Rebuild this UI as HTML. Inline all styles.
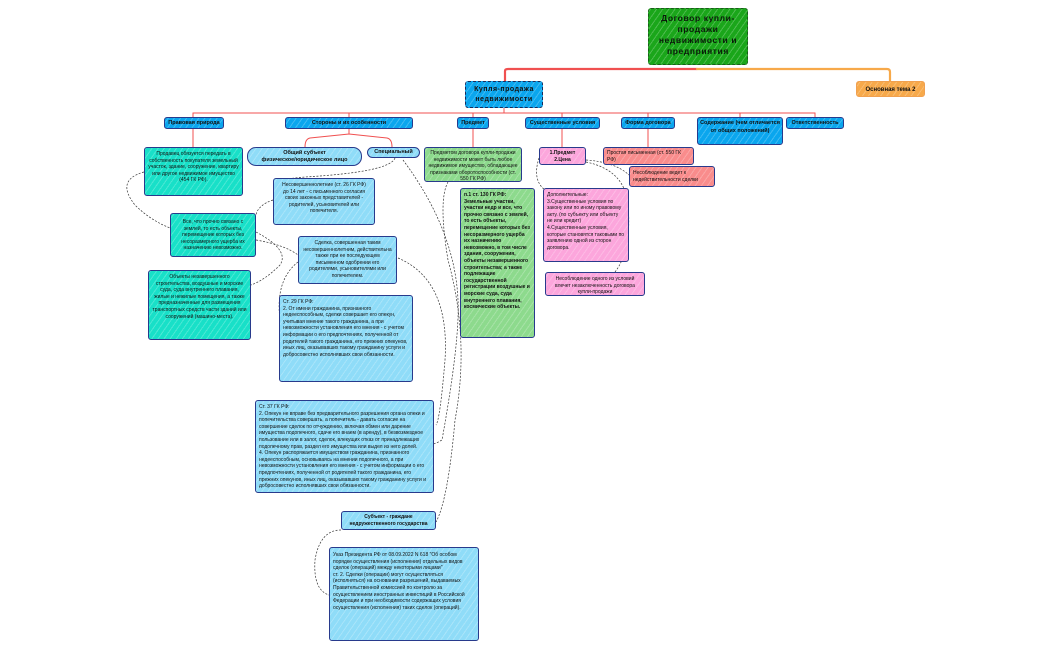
<!DOCTYPE html>
<html><head><meta charset="utf-8">
<style>
*{box-sizing:border-box;margin:0;padding:0}
body{width:1050px;height:650px;background:#fff;position:relative;overflow:hidden;font-family:"Liberation Sans","DejaVu Sans",sans-serif;}
.n{position:absolute;border:1.2px solid #283a8c;border-radius:3px;color:#111;font-size:5px;line-height:6.6px;padding:2px 3px;text-align:center;overflow:hidden;
background-image:repeating-linear-gradient(-55deg,rgba(255,255,255,.22) 0 1px,transparent 1px 5px);}
.l{text-align:left}
.b{background-color:#0aa6ee;font-size:5.5px;line-height:10px;padding:0 1px;white-space:nowrap;font-weight:bold}
.lb{background-color:#8fdcf8}
.t{background-color:#18e0c8}
.g{background-color:#8dda8d}
.p{background-color:#fca6dc}
.s{background-color:#f98c8c}
svg{position:absolute;left:0;top:0}
</style></head><body>
<svg width="1050" height="650">
<g fill="none" stroke-linecap="round">
<path d="M505 81 V71 Q505 69 508 69 H697" stroke="#f05050" stroke-width="2.2"/>
<path d="M697 69 H887 Q890 69 890 72 V81" stroke="#f7a94a" stroke-width="2.2"/>
<path d="M504 108 V113" stroke="#f05050" stroke-width="1"/>
<path d="M193 113 H815" stroke="#f05050" stroke-width="1"/>
<path d="M193 113 V117 M349 113 V117 M473 113 V117 M562 113 V117 M648 113 V117 M740 113 V117 M815 113 V117" stroke="#f05050" stroke-width="1"/>
<path d="M193 129 V147 M473 129 V147 M562 129 V147 M648 129 V147" stroke="#f05050" stroke-width="1"/>
<path d="M349 129 V134 M349 134 L310 138 Q305 139 305 147 M349 134 L387 138 Q392 139 392 147" stroke="#f05050" stroke-width="1"/>
</g>
<g fill="none" stroke="#333" stroke-width="0.7" stroke-dasharray="2,1.5">
<path d="M144 172 Q115 180 135 205 Q150 220 170 228"/>
<path d="M395 158 Q390 172 305 177 L275 180"/>
<path d="M273 200 Q258 205 256 215"/>
<path d="M256 240 Q285 245 298 255"/>
<path d="M256 232 Q290 250 280 265 Q265 280 251 285"/>
<path d="M298 262 Q275 280 280 320"/>
<path d="M398 258 Q450 280 445 360 Q440 420 436 425"/>
<path d="M403 160 Q455 230 458 300 Q460 340 442 440 Q425 450 418 440"/>
<path d="M448 182 Q438 200 448 260 Q470 340 455 420 Q448 500 436 522"/>
<path d="M341 530 Q320 530 315 560 Q313 590 329 595"/>
<path d="M539 158 Q532 180 545 190"/>
<path d="M586 162 Q625 170 628 205 Q632 250 615 272"/>
<path d="M586 160 Q615 162 629 175"/>
</g>
</svg>

<div class="n" style="left:648px;top:8px;width:100px;height:57px;background-color:#1aa61a;border:1.2px dashed #1b5a1b;font-size:8.5px;line-height:11px;padding-top:4px;letter-spacing:.6px;color:#0a1a0a;font-weight:bold">Договор купли-продажи недвижимости и предприятия</div>
<div class="n" style="left:465px;top:81px;width:78px;height:27px;background-color:#0aa6ee;border:1.2px dashed #1b2a5a;font-size:7px;line-height:9.5px;padding-top:3px;letter-spacing:.5px;font-weight:bold">Купля-продажа недвижимости</div>
<div class="n" style="left:856px;top:81px;width:69px;height:16px;background-color:#f7a94a;border:1px solid #f0a050;font-size:6px;line-height:12px;font-weight:bold">Основная тема 2</div>

<div class="n b" style="left:164px;top:117px;width:60px;height:12px">Правовая природа</div>
<div class="n b" style="left:285px;top:117px;width:128px;height:12px">Стороны и их особенности</div>
<div class="n b" style="left:457px;top:117px;width:32px;height:12px">Предмет</div>
<div class="n b" style="left:525px;top:117px;width:75px;height:12px">Существенные условия</div>
<div class="n b" style="left:621px;top:117px;width:54px;height:12px">Форма договора</div>
<div class="n b" style="left:697px;top:117px;width:86px;height:28px;white-space:normal;line-height:7.5px;padding-top:2px">Содержание (чем отличается от общих положений)</div>
<div class="n b" style="left:786px;top:117px;width:58px;height:12px">Ответственность</div>

<div class="n t" style="left:144px;top:147px;width:99px;height:49px;padding-top:3px">Продавец обязуется передать в собственность покупателя земельный участок, здание, сооружение, квартиру или другое недвижимое имущество (454 ГК РФ).</div>
<div class="n lb" style="left:247px;top:147px;width:115px;height:19px;border-radius:9px;font-size:5.5px;line-height:7px;padding-top:2px;font-weight:bold">Общий субъект<br>физическое/юридическое лицо</div>
<div class="n lb" style="left:367px;top:147px;width:53px;height:11px;border-radius:6px;font-size:5.5px;line-height:8px;padding:0;font-weight:bold">Специальный</div>
<div class="n lb" style="left:273px;top:178px;width:102px;height:47px;padding-top:3px">Несовершеннолетние (ст. 26 ГК РФ)<br>до 14 лет - с письменного согласия своих законных представителей - родителей, усыновителей или попечителя.</div>
<div class="n t" style="left:170px;top:213px;width:86px;height:44px;padding-top:5px">Все, что прочно связано с землей, то есть объекты, перемещение которых без несоразмерного ущерба их назначению невозможно.</div>
<div class="n lb" style="left:298px;top:236px;width:99px;height:48px;padding-top:3px">Сделка, совершенная таким несовершеннолетним, действительна также при ее последующем письменном одобрении его родителями, усыновителями или попечителем.</div>
<div class="n t" style="left:148px;top:270px;width:103px;height:70px;padding-top:3px">Объекты незавершенного строительства, воздушные и морские суда, суда внутреннего плавания, жилые и нежилые помещения, а также предназначенные для размещения транспортных средств части зданий или сооружений (машино-места).</div>
<div class="n lb l" style="left:279px;top:295px;width:134px;height:87px;padding-top:3px">Ст. 29 ГК РФ:<br>2. От имени гражданина, признанного недееспособным, сделки совершает его опекун, учитывая мнение такого гражданина, а при невозможности установления его мнения - с учетом информации о его предпочтениях, полученной от родителей такого гражданина, его прежних опекунов, иных лиц, оказывавших такому гражданину услуги и добросовестно исполнявших свои обязанности.</div>
<div class="n lb l" style="left:255px;top:400px;width:179px;height:93px;padding-top:3px">Ст. 37 ГК РФ:<br>2. Опекун не вправе без предварительного разрешения органа опеки и попечительства совершать, а попечитель - давать согласие на совершение сделок по отчуждению, включая обмен или дарение имущества подопечного, сдаче его внаем (в аренду), в безвозмездное пользование или в залог, сделок, влекущих отказ от принадлежащих подопечному прав, раздел его имущества или выдел из него долей.<br>4. Опекун распоряжается имуществом гражданина, признанного недееспособным, основываясь на мнении подопечного, а при невозможности установления его мнения - с учетом информации о его предпочтениях, полученной от родителей такого гражданина, его прежних опекунов, иных лиц, оказывавших такому гражданину услуги и добросовестно исполнявших свои обязанности.</div>
<div class="n lb" style="left:341px;top:511px;width:95px;height:19px;font-size:5px;line-height:6.5px;padding-top:2px;font-weight:bold">Субъект - граждане недружественного государства</div>
<div class="n lb l" style="left:329px;top:547px;width:150px;height:94px;padding-top:4px">Указ Президента РФ от 08.09.2022 N 618 "Об особом порядке осуществления (исполнения) отдельных видов сделок (операций) между некоторыми лицами"<br>ст. 2. Сделки (операции) могут осуществляться (исполняться) на основании разрешений, выдаваемых Правительственной комиссией по контролю за осуществлением иностранных инвестиций в Российской Федерации и при необходимости содержащих условия осуществления (исполнения) таких сделок (операций).</div>

<div class="n g" style="left:424px;top:147px;width:98px;height:35px;padding-top:2px">Предметом договора купли-продажи недвижимости может быть любое недвижимое имущество, обладающее признаками оборотоспособности (ст. 550 ГК РФ)</div>
<div class="n g l" style="left:460px;top:188px;width:75px;height:150px;padding-top:3px;font-weight:bold">п.1 ст. 130 ГК РФ: Земельные участки, участки недр и все, что прочно связано с землей, то есть объекты, перемещение которых без несоразмерного ущерба их назначению невозможно, в том числе здания, сооружения, объекты незавершенного строительства; а также подлежащие государственной регистрации воздушные и морские суда, суда внутреннего плавания, космические объекты.</div>
<div class="n p" style="left:539px;top:147px;width:47px;height:18px;padding-top:2px;font-weight:bold">1.Предмет<br>2.Цена</div>
<div class="n p l" style="left:543px;top:188px;width:86px;height:74px;padding-top:3px">Дополнительные:<br>3.Существенные условия по закону или по иному правовому акту. (по субъекту или объекту не или кредит)<br>4.Существенные условия, которые становятся таковыми по заявлению одной из сторон договора.</div>
<div class="n p" style="left:545px;top:272px;width:100px;height:24px;padding-top:3px">Несоблюдение одного из условий влечет незаключенность договора купли-продажи</div>
<div class="n s l" style="left:603px;top:147px;width:91px;height:18px;padding-top:2px">Простая письменная (ст. 550 ГК РФ)</div>
<div class="n s" style="left:629px;top:166px;width:86px;height:21px;padding-top:3px;text-align:left">Несоблюдение ведет к недействительности сделки</div>
</body></html>
